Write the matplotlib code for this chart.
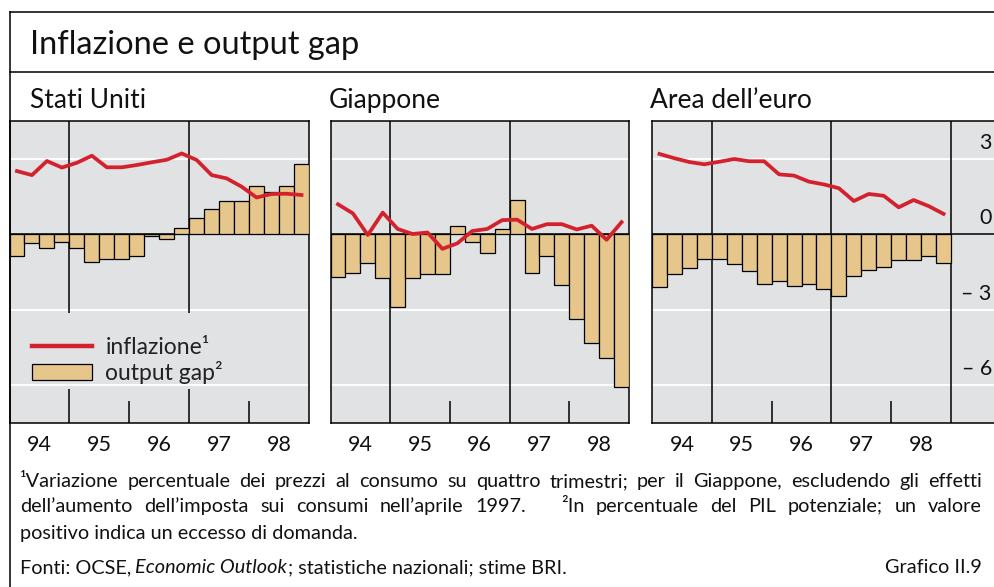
import matplotlib.pyplot as plt
from matplotlib.lines import Line2D
from matplotlib.patches import Patch
import numpy as np

plt.rcParams['font.family'] = ['Lato', 'DejaVu Sans']

W, H = 994, 587
BG = '#e1e2e4'
TAN = '#e6c68b'
RED = '#d3222d'

years = ['94', '95', '96', '97', '98']

# quarterly data 1994Q1 - 1998Q4
us_infl = [2.51, 2.35, 2.91, 2.65, 2.84, 3.12, 2.66, 2.66, 2.75, 2.86,
           2.96, 3.21, 2.95, 2.35, 2.22, 1.89, 1.46, 1.60, 1.61, 1.56]
us_gap = [-0.86, -0.33, -0.56, -0.30, -0.56, -1.12, -0.98, -0.98, -0.86, -0.05,
          -0.19, 0.24, 0.66, 0.99, 1.34, 1.34, 1.93, 1.68, 1.93, 2.80]
jp_infl = [1.19, 0.83, -0.03, 0.86, 0.21, 0.01, 0.07, -0.58, -0.36, 0.13,
           0.21, 0.56, 0.58, 0.21, 0.40, 0.40, 0.19, 0.34, -0.22, 0.48]
jp_gap = [-1.71, -1.53, -1.16, -1.73, -2.90, -1.75, -1.59, -1.57, 0.32, -0.29,
          -0.73, 0.20, 1.36, -1.53, -0.85, -2.01, -3.36, -4.31, -4.91, -6.07]
ea_infl = [3.19, 3.02, 2.87, 2.78, 2.88, 2.99, 2.90, 2.90, 2.38, 2.33,
           2.09, 1.98, 1.83, 1.32, 1.60, 1.53, 1.07, 1.36, 1.12, 0.81]
ea_gap = [-2.10, -1.59, -1.35, -0.99, -0.99, -1.18, -1.48, -1.96, -1.84, -2.04,
          -1.97, -2.16, -2.45, -1.65, -1.42, -1.32, -1.01, -1.01, -0.85, -1.16]

yticks = [3, 0, -3, -6]
ytick_labels = ['3', '0', '\u2013 3', '\u2013 6']

fig = plt.figure(figsize=(W / 100, H / 100), dpi=100)


def px_axes(x0, x1, y0, y1):
    return fig.add_axes([x0 / W, 1 - y1 / H, (x1 - x0) / W, (y1 - y0) / H])


def fig_line(xs, ys):
    fig.add_artist(Line2D([x / W for x in xs], [1 - y / H for y in ys],
                          transform=fig.transFigure, color='black', lw=1.1))


def ftext(x, y, s, **kw):
    kw.setdefault('va', 'baseline')
    return fig.text(x / W, 1 - y / H, s, **kw)


# outer frame
fig_line([10, 994], [12, 12])
fig_line([10, 994], [72, 72])
fig_line([10, 10], [12, 587])
ftext(30, 54, 'Inflazione e output gap', fontsize=23.5, color='#111111')

panels = [
    ('Stati Uniti', us_infl, us_gap, 9.5, 309, 30),
    ('Giappone', jp_infl, jp_gap, 330.5, 629, 329),
    ('Area dell\u2019euro', ea_infl, ea_gap, 652, 994, 650),
]

x = np.arange(20) + 0.5
for i, (name, infl, gap, left, right, tx) in enumerate(panels):
    ax = px_axes(left, right, 121, 423)
    ax.set_facecolor(BG)
    xmax = 20 if i < 2 else 20 + (right - 951) / ((951 - left) / 20)
    ax.set_xlim(0, xmax)
    ax.set_ylim(-7.5, 4.5)
    for g in [3, -3, -6]:
        ax.axhline(g, color='white', lw=1.3, zorder=1)
    ax.axhline(0, color='black', lw=1.1, zorder=2)
    for b in [4, 12]:
        if i == 0:
            ax.vlines(b, -3.13, 4.5, color='black', lw=1.1, zorder=2)
            ax.vlines(b, -7.5, -6.15, color='black', lw=1.1, zorder=2)
        else:
            ax.vlines(b, -7.5, 4.5, color='black', lw=1.1, zorder=2)
    for b in [8, 16]:
        ax.vlines(b, -7.5, -6.63, color='black', lw=1.1, zorder=2)
    ax.bar(x, gap, width=1, color=TAN, edgecolor='black', linewidth=0.9, zorder=3)
    ax.plot(x, infl, color=RED, lw=2.7, zorder=4)
    ax.set_yticks([])
    ax.set_xticks([2, 6, 10, 14, 18], years)
    ax.tick_params(axis='x', length=0, pad=8.5, labelsize=15.5, labelcolor='#111111')
    for s in ax.spines.values():
        s.set_linewidth(1.1)
    if i == 2:
        ax.spines['right'].set_visible(False)
        ax.axvline(20, color='black', lw=1.1, zorder=2)
        for v, lab in zip(yticks, ytick_labels):
            ax.text(xmax - 0.15, v + 0.63, lab, ha='right', va='center',
                    fontsize=15.5, color='#111111')
    if i == 0:
        handles = [Line2D([], [], color=RED, lw=3.2),
                   Patch(facecolor=TAN, edgecolor='black', linewidth=0.9)]
        ax.legend(handles, ['inflazione\u00b9', 'output gap\u00b2'],
                  loc='upper left', bbox_to_anchor=(0.075, 0.285),
                  frameon=False, fontsize=16.5, handlelength=2.6,
                  handleheight=0.7, handletextpad=0.6, labelspacing=0.15,
                  borderpad=0, borderaxespad=0, labelcolor='#222222')
    ftext(tx, 108, name, fontsize=19, color='#111111')

# footnotes
renderer = fig.canvas.get_renderer()
FS = 14.3


def justify(y, text, x0, x1):
    words = text.split(' ')
    objs = [ftext(0, y, w, fontsize=FS, color='#111111') for w in words]
    widths = [o.get_window_extent(renderer).width if w else 0
              for o, w in zip(objs, words)]
    gap = (x1 - x0 - sum(widths)) / (len(words) - 1)
    pos = x0
    for o, w in zip(objs, widths):
        o.set_x(pos / W)
        pos += w + gap


justify(487, '\u00b9Variazione percentuale dei prezzi al consumo su quattro trimestri; '
        'per il Giappone, escludendo gli effetti', 20, 982)
justify(512, 'dell\u2019aumento dell\u2019imposta sui consumi nell\u2019aprile 1997.   '
        '\u00b2In percentuale del PIL potenziale; un valore', 20, 982)
ftext(20, 539, 'positivo indica un eccesso di domanda.', fontsize=FS, color='#111111')

t1 = ftext(20, 573, 'Fonti: OCSE,', fontsize=FS, color='#111111')
p = 20 + t1.get_window_extent(renderer).width + 4
t2 = ftext(p, 573, 'Economic Outlook', fontsize=FS, style='italic', color='#111111')
p += t2.get_window_extent(renderer).width + 1
ftext(p, 573, '; statistiche nazionali; stime BRI.', fontsize=FS, color='#111111')
ftext(982, 573, 'Grafico II.9', fontsize=FS, ha='right', color='#111111')

fig.savefig('out.png', dpi=100)
